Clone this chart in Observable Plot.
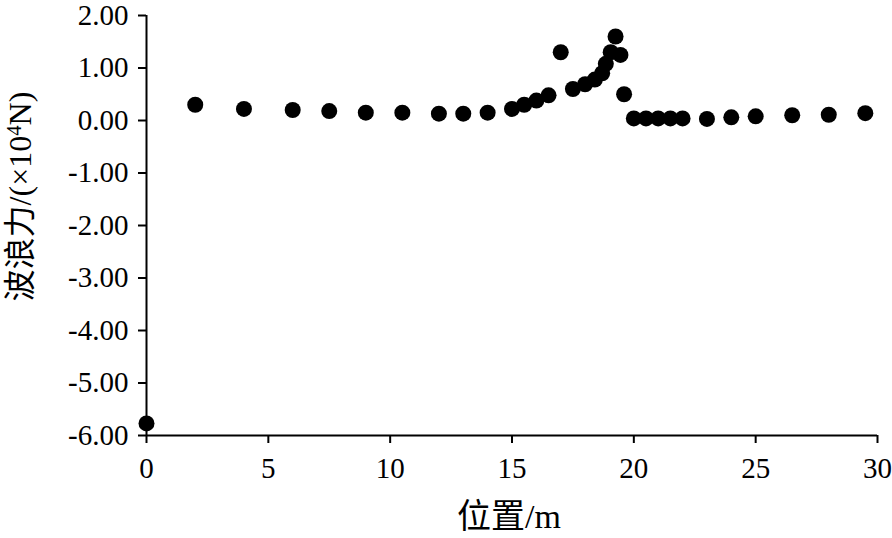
<!DOCTYPE html>
<html>
<head>
<meta charset="utf-8">
<script src="https://cdn.jsdelivr.net/npm/d3@7"></script>
<script src="https://cdn.jsdelivr.net/npm/@observablehq/plot@0.6"></script>
<style>
  html, body { margin: 0; padding: 0; background: #fff; }
</style>
</head>
<body>
<div id="chart"></div>
<script>
// Position along structure (m)
const positions = [0, 2, 4, 6, 7.5, 9, 10.5, 12, 13, 14, 15, 15.5, 16, 16.5, 17, 17.5, 18, 18.4, 18.7, 18.85, 19.05, 19.25, 19.45, 19.6, 20, 20.5, 21, 21.5, 22, 23, 24, 25, 26.5, 28, 29.5];
// Wave force (×10^4 N)
const forces = [-5.77, 0.30, 0.22, 0.20, 0.18, 0.15, 0.15, 0.13, 0.13, 0.15, 0.22, 0.30, 0.38, 0.48, 1.30, 0.60, 0.69, 0.78, 0.90, 1.08, 1.30, 1.60, 1.25, 0.50, 0.04, 0.04, 0.04, 0.04, 0.04, 0.03, 0.06, 0.08, 0.10, 0.11, 0.14];
const xTicks = [0, 5, 10, 15, 20, 25, 30];
const yTicks = [-6, -5, -4, -3, -2, -1, 0, 1, 2];
const xTitle = "位置/m";
const yTitle = "波浪力/(×10^4N)";

const data = positions.map((p, i) => ({position: p, force: forces[i]}));

const font = "Liberation Serif, Times New Roman, Noto Sans CJK SC, serif";

const chart = Plot.plot({
  width: 892,
  height: 538,
  marginLeft: 146,
  marginRight: 15,
  marginTop: 15,
  marginBottom: 103,
  style: {fontFamily: font, fontSize: "29px", color: "#000", background: "#fff"},
  x: {domain: [0, 30]},
  y: {domain: [-6, 2]},
  marks: [
    Plot.axisX({ticks: xTicks, tickSize: 8, tickPadding: 14, tickFormat: d => String(d), label: null, strokeWidth: 2, className: "xax"}),
    Plot.axisY({ticks: yTicks, tickSize: 8, tickPadding: 10, tickFormat: d => d.toFixed(2), label: null, strokeWidth: 2, className: "yax"}),
    Plot.ruleX([0], {stroke: "#000", strokeWidth: 2}),
    Plot.ruleY([-6], {stroke: "#000", strokeWidth: 2}),
    Plot.dot(data, {x: "position", y: "force", r: 8, fill: "#000", stroke: "none"}),
    Plot.text([xTitle], {frameAnchor: "bottom", text: d => d, dx: -3, dy: 82, textAnchor: "middle", lineAnchor: "middle", fontSize: 34, fill: "#000", className: "xtitle"}),
    Plot.text([yTitle], {frameAnchor: "left", text: d => d, dx: -126, dy: -29, rotate: -90, textAnchor: "middle", lineAnchor: "middle", fontSize: 32, fill: "#000", className: "ytitle"})
  ]
});

document.getElementById("chart").appendChild(chart);

// Force serif font and sizes on all text
d3.select(chart).selectAll("text").style("font-family", font);
d3.select(chart).selectAll("g[aria-label='x-axis tick label'] text, g[aria-label='y-axis tick label'] text").style("font-size", "29px");

// Build superscript for the y title
d3.select(chart).selectAll(".ytitle text").each(function() {
  const t = d3.select(this);
  const s = t.text();
  const parts = s.split("^4");
  t.text(null);
  t.append("tspan").text(parts[0]);
  t.append("tspan").attr("dy", "-0.45em").attr("font-size", "0.65em").text("4");
  t.append("tspan").attr("dy", "0.3em").text(parts[1]);
});
</script>
</body>
</html>
